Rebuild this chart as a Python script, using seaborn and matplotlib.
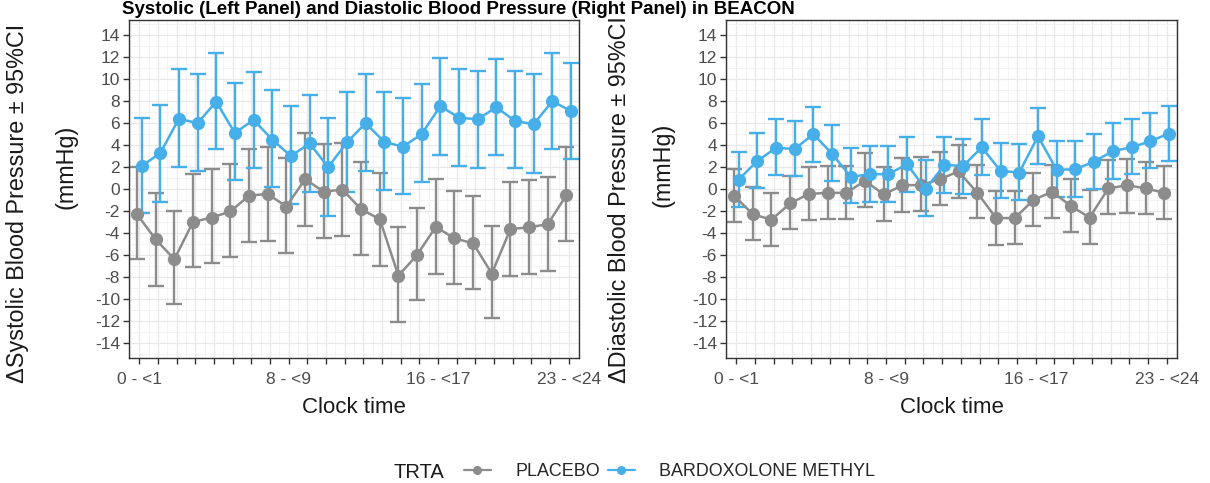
import numpy as np
import pandas as pd
import matplotlib
matplotlib.use("Agg")
import matplotlib.pyplot as plt
import seaborn as sns
from matplotlib.lines import Line2D
from matplotlib.ticker import MultipleLocator, FixedLocator

# ---------------- data ----------------
clock_times = ["0 - <1", "1 - <2", "2 - <3", "3 - <4", "4 - <5", "5 - <6",
               "6 - <7", "7 - <8", "8 - <9", "9 - <10", "10 - <11", "11 - <12",
               "12 - <13", "13 - <14", "14 - <15", "15 - <16", "16 - <17", "17 - <18",
               "18 - <19", "19 - <20", "20 - <21", "21 - <22", "22 - <23", "23 - <24"]
shown_labels = ["0 - <1", "8 - <9", "16 - <17", "23 - <24"]
treatments = ["PLACEBO", "BARDOXOLONE METHYL"]

# Systolic (left panel)
sbp_pbo_mean = [-2.3, -4.6, -6.4, -3.0, -2.6, -2.05, -0.6, -0.45, -1.6, 0.9, -0.25, -0.05,
                -1.85, -2.75, -7.9, -6.0, -3.45, -4.5, -4.95, -7.7, -3.65, -3.5, -3.2, -0.55]
sbp_pbo_lo = [-6.4, -8.85, -10.5, -7.15, -6.7, -6.2, -4.8, -4.7, -5.8, -3.35, -4.5, -4.25,
              -6.0, -7.0, -12.15, -10.15, -7.7, -8.65, -9.1, -11.8, -7.9, -7.75, -7.45, -4.75]
sbp_pbo_hi = [2.0, -0.35, -2.0, 1.35, 1.8, 2.3, 3.65, 3.85, 2.85, 5.1, 4.1, 4.2,
              2.5, 1.5, -3.5, -1.7, 0.9, -0.15, -0.65, -3.35, 0.65, 0.8, 1.1, 3.8]
sbp_bard_mean = [2.1, 3.25, 6.4, 6.0, 7.95, 5.1, 6.3, 4.5, 3.0, 4.15, 2.0, 4.25,
                 6.0, 4.3, 3.85, 5.0, 7.55, 6.5, 6.35, 7.45, 6.2, 5.9, 8.0, 7.1]
sbp_bard_lo = [-2.2, -1.15, 2.0, 1.6, 3.6, 0.8, 1.9, 0.15, -1.35, -0.3, -2.45, -0.25,
               1.65, -0.1, -0.5, 0.65, 3.1, 2.1, 1.95, 3.1, 1.9, 1.5, 3.6, 2.7]
sbp_bard_hi = [6.5, 7.7, 10.9, 10.45, 12.4, 9.7, 10.7, 9.0, 7.55, 8.55, 6.5, 8.8,
               10.45, 8.8, 8.3, 9.55, 11.95, 10.9, 10.75, 11.85, 10.75, 10.45, 12.4, 11.5]

# Diastolic (right panel)
dbp_pbo_mean = [-0.6, -2.3, -2.8, -1.3, -0.45, -0.35, -0.35, 0.75, -0.5, 0.35, 0.35, 0.9,
                1.6, -0.35, -2.65, -2.65, -1.0, -0.25, -1.55, -2.6, 0.05, 0.35, 0.05, -0.35]
dbp_pbo_lo = [-3.0, -4.65, -5.2, -3.65, -2.8, -2.75, -2.75, -1.65, -2.9, -2.1, -2.0, -1.5,
              -0.8, -2.65, -5.1, -5.0, -3.35, -2.65, -3.95, -5.0, -2.3, -2.15, -2.3, -2.75]
dbp_pbo_hi = [1.8, 0.2, -0.35, 1.2, 2.05, 2.1, 2.1, 3.25, 2.05, 2.8, 2.95, 3.35,
              4.05, 2.2, -0.2, -0.2, 1.5, 2.2, 0.9, -0.1, 2.6, 2.75, 2.5, 2.1]
dbp_bard_mean = [0.85, 2.55, 3.75, 3.65, 5.0, 3.2, 1.1, 1.35, 1.35, 2.25, 0.0, 2.2,
                 2.1, 3.8, 1.65, 1.5, 4.8, 1.75, 1.8, 2.5, 3.45, 3.8, 4.35, 5.05]
dbp_bard_lo = [-1.6, 0.05, 1.3, 1.2, 2.45, 0.75, -1.3, -1.15, -1.15, -0.25, -2.5, -0.35,
               -0.45, 1.3, -0.85, -1.0, 2.3, -0.75, -0.7, 0.0, 0.95, 1.35, 1.9, 2.55]
dbp_bard_hi = [3.35, 5.1, 6.35, 6.2, 7.5, 5.85, 3.7, 3.95, 3.9, 4.75, 2.6, 4.75,
               4.6, 6.35, 4.2, 4.1, 7.35, 4.4, 4.35, 5.05, 6.05, 6.4, 6.95, 7.6]

colors = {"PLACEBO": "#8C8C8C", "BARDOXOLONE METHYL": "#46AEE8"}
dodge = {"PLACEBO": -0.12, "BARDOXOLONE METHYL": 0.12}

# ---------------- figure ----------------
sns.set_theme(style="white")
plt.rcParams['font.family'] = ['Liberation Sans', 'DejaVu Sans']
plt.rcParams['axes.unicode_minus'] = False

W, H = 1210, 483
fig = plt.figure(figsize=(W / 100, H / 100), dpi=100)


def px_axes(x0, y0, x1, y1):
    return fig.add_axes([x0 / W, 1 - y1 / H, (x1 - x0) / W, (y1 - y0) / H])


def build_df(pbo, bard):
    rows = []
    for trt, (m, lo, hi) in zip(treatments, (pbo, bard)):
        for i, ct in enumerate(clock_times):
            rows.append({"clock": ct, "pos": i + dodge[trt], "TRTA": trt,
                         "mean": m[i], "lo": lo[i], "hi": hi[i]})
    return pd.DataFrame(rows)


def draw_panel(ax, df):
    for trt in treatments:
        d = df[df["TRTA"] == trt]
        ax.errorbar(d["pos"], d["mean"],
                    yerr=[d["mean"] - d["lo"], d["hi"] - d["mean"]],
                    fmt="none", ecolor=colors[trt], elinewidth=1.7,
                    capsize=5.5, capthick=1.7, zorder=2)
        sns.lineplot(data=d, x="pos", y="mean", color=colors[trt], marker="o",
                     markersize=9.5, markeredgewidth=0, linewidth=1.8,
                     legend=False, ax=ax, zorder=3)
    ax.set_xlim(-0.55, 23.55)
    ax.set_ylim(-15.4, 15.4)
    ax.set_xticks(range(len(clock_times)))
    ax.set_xticklabels([c if c in shown_labels else "" for c in clock_times])
    ax.xaxis.set_minor_locator(FixedLocator(np.arange(-0.5, 24, 1)))
    ax.set_yticks(range(-14, 15, 2))
    ax.yaxis.set_minor_locator(MultipleLocator(1))
    ax.grid(which="major", color="#E8E8E8", lw=0.9)
    ax.grid(which="minor", color="#F1F1F1", lw=0.6)
    ax.set_axisbelow(True)
    ax.tick_params(which="major", length=4.5, width=1, color="#333333",
                   labelsize=12.5, labelcolor="#4D4D4D",
                   direction="out", bottom=True, left=True)
    ax.tick_params(axis="x", which="major", pad=5.5)
    ax.tick_params(axis="y", which="major", pad=2)
    ax.tick_params(which="minor", length=0)
    for s in ax.spines.values():
        s.set_visible(True)
        s.set_color("#333333")
        s.set_linewidth(1)
    ax.set_xlabel("Clock time", fontsize=16, color="#1A1A1A", labelpad=7.5)
    ax.set_ylabel("")


axL = px_axes(129, 20, 579, 358)
axR = px_axes(726, 20, 1177, 358)
draw_panel(axL, build_df((sbp_pbo_mean, sbp_pbo_lo, sbp_pbo_hi),
                         (sbp_bard_mean, sbp_bard_lo, sbp_bard_hi)))
draw_panel(axR, build_df((dbp_pbo_mean, dbp_pbo_lo, dbp_pbo_hi),
                         (dbp_bard_mean, dbp_bard_lo, dbp_bard_hi)))

# y labels
ylab_kw = dict(rotation=90, fontsize=16.8, color="#1A1A1A", ha="center")
fig.text(18 / W, 1 - 383 / H, "\u0394Systolic Blood Pressure \u00b1 95%CI", va="bottom", **ylab_kw)
fig.text(66 / W, 1 - 167 / H, "(mmHg)", va="center", **ylab_kw)
fig.text(620 / W, 1 - 383 / H, "\u0394Diastolic Blood Pressure \u00b1 95%CI", va="bottom", **ylab_kw)
fig.text(663 / W, 1 - 165 / H, "(mmHg)", va="center", **ylab_kw)

# title
fig.text(795 / W, 1 - 1 / H,
         "Systolic (Left Panel) and Diastolic Blood Pressure (Right Panel) in BEACON",
         ha="right", va="top", fontsize=13.5, fontweight="bold", color="black")

# legend
fig.text(393 / W, 1 - 472 / H, "TRTA", fontsize=14.5, va="center", ha="left", color="#1A1A1A")
handles = [Line2D([], [], color=colors[t], marker="o", markersize=6.5,
                  markeredgewidth=0, lw=1.6) for t in treatments]
fig.legend(handles, treatments, loc="center left",
           bbox_to_anchor=(464 / W, 1 - 472 / H), ncol=2, frameon=False,
           fontsize=12.9, handlelength=1.5, handletextpad=1.35, columnspacing=0.45,
           borderpad=0, borderaxespad=0)

fig.savefig("out.png", dpi=100)
